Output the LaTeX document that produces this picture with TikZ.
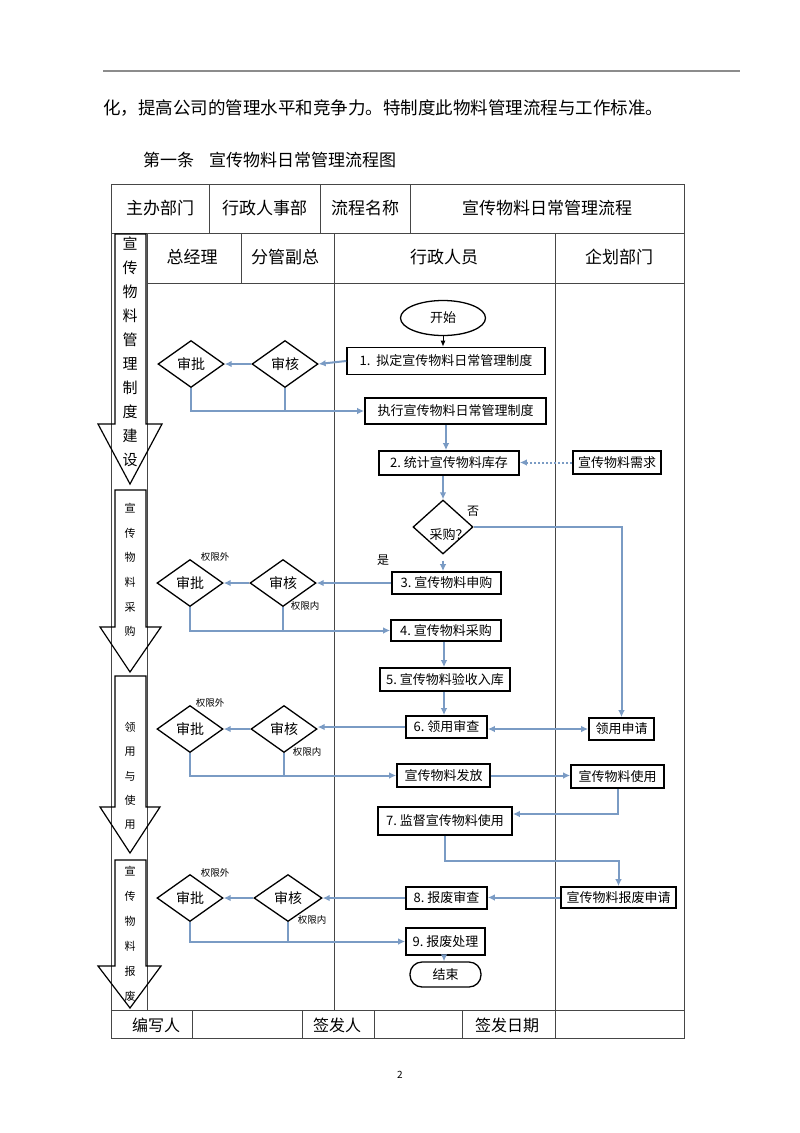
\documentclass[tikz,border=0pt]{standalone}
\usepackage{fontspec}
\setmainfont{Noto Sans CJK SC}
\usetikzlibrary{shapes.geometric,arrows.meta}
\newcommand\fsz[2]{\fontsize{#1}{#2}\selectfont}
\definecolor{flowblue}{RGB}{122,155,196}
\definecolor{tabline}{RGB}{70,70,70}
\definecolor{rulegray}{RGB}{140,140,140}
\begin{document}
\begin{tikzpicture}[x=1pt,y=-1pt,
  box/.style={draw=black, line width=1.6pt, inner sep=0pt, font=\fsz{13}{15}},
  dia/.style={diamond, draw=black, line width=1.3pt, inner sep=0pt, minimum width=66pt, minimum height=47pt, font=\fsz{14}{16}},
  flow/.style={draw=flowblue, line width=2pt, -{Latex[length=7pt,width=6.5pt]}},
  flowline/.style={draw=flowblue, line width=2pt},
  cell/.style={font=\fsz{17}{19}, inner sep=0pt},
  lim/.style={font=\fsz{9.5}{11}, inner sep=0pt},
  yn/.style={font=\fsz{12}{14}, inner sep=0pt},
  bigarrow/.style={draw=black, line width=1.2pt},
  tab/.style={draw=tabline, line width=1pt},
  colA/.style={align=center, inner sep=0pt}
]
\fill[white] (0,0) rectangle (800,1133);
\useasboundingbox (0,0) rectangle (800,1133);

% top rule and text
\draw[rulegray, line width=1.6pt] (103,71) -- (740,71);
\node[anchor=west, inner sep=0pt, font=\fsz{17.5}{20}] (intro) at (103,108) {化，提高公司的管理水平和竞争力。特制度此物料管理流程与工作标准。};
\node[anchor=west, inner sep=0pt, font=\fsz{17}{19}] (title) at (143,160) {第一条\hspace{15pt}宣传物料日常管理流程图};

% table
\draw[tab] (111,184) rectangle (684,1038);
\draw[tab] (111,233) -- (684,233);
\draw[tab] (147,283) -- (684,283);
\draw[tab] (111,1010) -- (684,1010);
\foreach \x in {209,320,410} \draw[tab] (\x,184) -- (\x,233);
\draw[tab] (241,233) -- (241,283);
\foreach \x in {147,334,555} \draw[tab] (\x,233) -- (\x,1010);
\foreach \x in {192,302,374,462,555} \draw[tab] (\x,1010) -- (\x,1038);

\node[cell] (h1) at (160,208) {主办部门};
\node[cell] (h2) at (264.5,208) {行政人事部};
\node[cell] (h3) at (365,208) {流程名称};
\node[cell] (h4) at (547,208) {宣传物料日常管理流程};
\node[cell] (r1) at (192,257) {总经理};
\node[cell] (r2) at (285,257) {分管副总};
\node[cell] (r3) at (444,257) {行政人员};
\node[cell] (r4) at (619,257) {企划部门};
\node[cell, font=\fsz{16}{18}] (f1) at (156,1025) {编写人};
\node[cell, font=\fsz{16}{18}] (f2) at (337,1025) {签发人};
\node[cell, font=\fsz{16}{18}] (f3) at (507,1025) {签发日期};
\node[inner sep=0pt, font=\fsz{10}{12}] (pg) at (400,1075) {2};

% left stage arrows
\draw[bigarrow] (115,234) -- (146,234) -- (146,424) -- (162,424) -- (130,484) -- (98,424) -- (115,424) -- cycle;
\draw[bigarrow] (115,490) -- (146,490) -- (146,627) -- (161,627) -- (130,672) -- (100,627) -- (115,627) -- cycle;
\draw[bigarrow] (115,676) -- (146,676) -- (146,807) -- (160,807) -- (130,853) -- (100,807) -- (115,807) -- cycle;
\draw[bigarrow] (115,860) -- (146,860) -- (146,966) -- (161,966) -- (130,1008) -- (98,966) -- (115,966) -- cycle;
\node[colA, font=\fsz{15}{24}] (t1) at (130,352) {宣\\传\\物\\料\\管\\理\\制\\度\\建\\设};
\node[colA, font=\fsz{11}{24.6}] (t2) at (130,570) {宣\\传\\物\\料\\采\\购};
\node[colA, font=\fsz{11}{24.3}] (t3) at (130,776) {领\\用\\与\\使\\用};
\node[colA, font=\fsz{11}{25}] (t4) at (130,934) {宣\\传\\物\\料\\报\\废};

% flow nodes
\node[ellipse, draw=black, line width=1.3pt, minimum width=85pt, minimum height=35pt, inner sep=0pt, font=\fsz{13}{15}] (start) at (443,318) {开始};
\node[box, minimum width=198pt, minimum height=27pt] (b1) at (446,361) {1.\ \ 拟定宣传物料日常管理制度};
\node[dia] (s1) at (285,364) {审核};
\node[dia] (p1) at (191,364) {审批};
\node[box, minimum width=181pt, minimum height=26pt] (exe) at (455.5,411) {执行宣传物料日常管理制度};
\node[box, minimum width=140pt, minimum height=24pt] (b2) at (449,463) {2.\ 统计宣传物料库存};
\node[box, minimum width=88pt, minimum height=23pt] (need) at (617,462.5) {宣传物料需求};
\node[diamond, draw=black, line width=1.3pt, inner sep=0pt, minimum width=60pt, minimum height=54pt] (q) at (443,527) {};
\node[inner sep=0pt, font=\fsz{13}{15}] (qt) at (449,535) {采购？};
\node[yn] (no) at (473,511) {否};
\node[yn] (yes) at (383,560) {是};

\node[box, minimum width=109pt, minimum height=22pt] (b3) at (446.5,583) {3.\ 宣传物料申购};
\node[dia] (s2) at (283,583) {审核};
\node[dia] (p2) at (190,583) {审批};
\node[lim] (l2a) at (215,557) {权限外};
\node[lim] (l2b) at (305,606) {权限内};
\node[box, minimum width=110pt, minimum height=21pt] (b4) at (446,630.5) {4.\ 宣传物料采购};
\node[box, minimum width=130pt, minimum height=23pt] (b5) at (445,679.5) {5.\ 宣传物料验收入库};
\node[box, minimum width=81pt, minimum height=22pt] (b6) at (446.5,727) {6.\ 领用审查};
\node[box, minimum width=65pt, minimum height=22pt] (apply) at (621.5,729) {领用申请};
\node[dia] (s3) at (284,729) {审核};
\node[dia] (p3) at (190,729) {审批};
\node[lim] (l3a) at (210,703) {权限外};
\node[lim] (l3b) at (307,752) {权限内};
\node[box, minimum width=93pt, minimum height=23pt] (issue) at (443.5,775.5) {宣传物料发放};
\node[box, minimum width=93pt, minimum height=23pt] (use) at (617.5,776.5) {宣传物料使用};
\node[box, minimum width=134pt, minimum height=28pt] (b7) at (445,821) {7.\ 监督宣传物料使用};
\node[box, minimum width=115pt, minimum height=21pt] (scrap) at (618.5,897.5) {宣传物料报废申请};
\node[box, minimum width=81pt, minimum height=22pt] (b8) at (446.5,898) {8.\ 报废审查};
\node[dia, minimum width=68pt] (s4) at (288,898) {审核};
\node[dia] (p4) at (190,898) {审批};
\node[lim] (l4a) at (215,873) {权限外};
\node[lim] (l4b) at (312,920) {权限内};
\node[box, minimum width=79pt, minimum height=27pt] (b9) at (445.5,941.5) {9.\ 报废处理};
\node[draw=black, line width=1.3pt, rounded corners=12pt, minimum width=71pt, minimum height=25pt, inner sep=0pt, font=\fsz{13}{15}] (end) at (445.5,974.5) {结束};

% connectors
\draw[black, line width=1pt, -{Latex[length=6pt,width=5pt]}] (start.south) -- (start.south |- b1.north);
\draw[flow] (b1.west) -- (s1.east);
\draw[flow] (s1.west) -- (p1.east);
\draw[flow] (p1.south) |- (exe.west);
\draw[flowline] (s1.south) -- (s1.south |- exe.west);
\draw[flow] (exe.south -| 446,0) -- (b2.north -| 446,0);
\draw[flowblue, line width=2pt, dotted, -{Latex[length=7pt,width=6.5pt]}] (need.west) -- (b2.east |- need.west);
\draw[flow] (b2.south -| q.north) -- (q.north);
\draw[flow] (q.east) -| (apply.north);
\draw[flow] ([yshift=-6pt]q.south) -- (q.south |- b3.north);

\draw[flow] (b3.west) -- (s2.east);
\draw[flow] (s2.west) -- (p2.east);
\draw[flow] (p2.south) |- (b4.west);
\draw[flowline] (s2.south) -- (s2.south |- b4.west);
\draw[flow] (b4.south -| 444,0) -- (b5.north -| 444,0);
\draw[flow] (b5.south -| 444,0) -- (b6.north -| 444,0);

\draw[flow] (b6.west) -- (s3.east |- b6.west);
\draw[flow] (s3.west) -- (p3.east);
\draw[flow] (p3.south) |- (issue.west);
\draw[flowline] (s3.south) -- (s3.south |- issue.west);
\draw[flowblue, line width=2pt, {Latex[length=7pt,width=6.5pt]}-{Latex[length=7pt,width=6.5pt]}] (b6.east |- apply.west) -- (apply.west);
\draw[flow] (issue.east) -- (use.west |- issue.east);
\draw[flow] (use.south) |- ([yshift=7pt]b7.east);
\draw[flow] (b7.south) -- ++(0,25) -| (scrap.north);

\draw[flow] (scrap.west) -- (b8.east |- scrap.west);
\draw[flow] (b8.west) -- (s4.east);
\draw[flow] (s4.west) -- (p4.east);
\draw[flow] (p4.south) |- (b9.west);
\draw[flowline] (s4.south) -- (s4.south |- b9.west);
\draw[flow] (b9.south -| 444,0) -- (end.north -| 444,0);
\end{tikzpicture}
\end{document}
